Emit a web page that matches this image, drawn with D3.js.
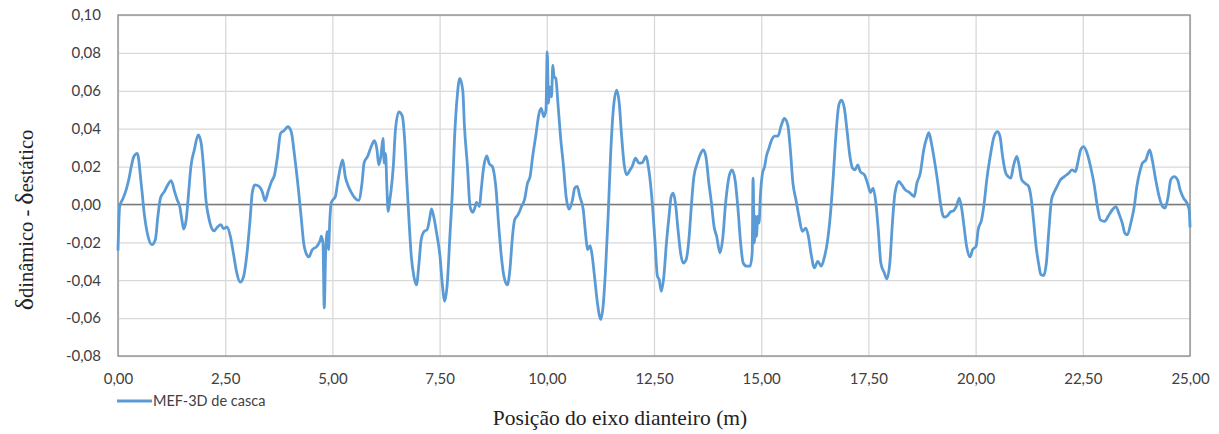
<!DOCTYPE html>
<html>
<head>
<meta charset="utf-8">
<script src="https://cdn.jsdelivr.net/npm/d3@7"></script>
<style>
  body { margin: 0; background: #fff; }
  .tick text { font-family: Lato, "Noto Sans", sans-serif; font-size: 15px; fill: #404040; }
</style>
</head>
<body>
<svg id="chart" width="1219" height="434"></svg>
<script>
// posição do eixo dianteiro (m)
const posX = [
  0.00,0.04,0.12,0.19,0.25,0.31,0.37,0.45,0.54,0.62,0.70,0.79,0.87,0.93,0.99,1.08,1.16,1.24,1.32,1.38,
  1.44,1.49,1.53,1.59,1.64,1.70,1.78,1.87,1.94,2.00,2.05,2.11,2.17,2.24,2.32,2.40,2.46,2.54,2.62,2.69,
  2.77,2.85,2.93,3.00,3.08,3.13,3.19,3.29,3.37,3.43,3.50,3.58,3.65,3.72,3.79,3.87,3.96,4.04,4.12,4.20,
  4.27,4.33,4.40,4.45,4.53,4.64,4.72,4.74,4.78,4.81,4.84,4.88,4.91,4.94,4.97,5.00,5.07,5.12,5.19,5.24,
  5.30,5.36,5.43,5.53,5.61,5.69,5.74,5.82,5.90,5.98,6.04,6.08,6.13,6.18,6.21,6.24,6.27,6.30,6.34,6.37,
  6.42,6.47,6.55,6.63,6.68,6.73,6.79,6.84,6.90,6.96,7.02,7.07,7.14,7.21,7.27,7.31,7.37,7.43,7.51,7.56,
  7.62,7.68,7.74,7.80,7.85,7.91,7.97,8.04,8.08,8.15,8.21,8.27,8.32,8.36,8.43,8.47,8.53,8.60,8.66,8.73,
  8.81,8.88,8.94,9.00,9.08,9.14,9.20,9.25,9.33,9.41,9.48,9.55,9.61,9.67,9.74,9.82,9.87,9.93,9.98,10.01,
  10.04,10.07,10.11,10.14,10.17,10.21,10.26,10.32,10.39,10.45,10.52,10.60,10.65,10.71,10.77,10.85,10.91,10.95,11.01,11.06,
  11.12,11.18,11.26,11.32,11.37,11.43,11.49,11.55,11.63,11.69,11.74,11.80,11.86,11.94,11.99,12.07,12.15,12.23,12.31,12.38,
  12.46,12.52,12.58,12.62,12.67,12.73,12.79,12.85,12.90,12.95,13.00,13.06,13.12,13.18,13.25,13.32,13.37,13.43,13.51,13.59,
  13.65,13.71,13.78,13.84,13.90,13.96,14.04,14.10,14.17,14.25,14.32,14.39,14.46,14.52,14.58,14.66,14.74,14.79,14.81,14.84,
  14.87,14.89,14.92,14.95,14.98,15.03,15.08,15.12,15.18,15.23,15.31,15.39,15.47,15.54,15.62,15.68,15.74,15.81,15.88,15.96,
  16.04,16.10,16.16,16.24,16.32,16.40,16.47,16.54,16.61,16.68,16.74,16.81,16.87,16.94,17.00,17.07,17.13,17.19,17.25,17.31,
  17.41,17.48,17.55,17.61,17.67,17.73,17.79,17.87,17.93,18.00,18.06,18.12,18.21,18.28,18.36,18.46,18.57,18.63,18.71,18.79,
  18.87,18.91,18.97,19.05,19.12,19.18,19.26,19.34,19.41,19.49,19.55,19.62,19.68,19.73,19.79,19.87,19.93,20.01,20.06,20.14,
  20.20,20.26,20.34,20.43,20.51,20.57,20.63,20.70,20.76,20.82,20.88,20.96,21.02,21.07,21.15,21.23,21.29,21.35,21.41,21.48,
  21.52,21.59,21.65,21.71,21.77,21.84,21.90,21.98,22.07,22.17,22.25,22.33,22.38,22.45,22.52,22.60,22.68,22.76,22.84,22.91,
  23.01,23.09,23.19,23.27,23.34,23.42,23.48,23.54,23.62,23.70,23.76,23.84,23.89,23.97,24.06,24.12,24.20,24.28,24.36,24.42,
  24.49,24.55,24.63,24.71,24.77,24.85,24.93,24.98,25.00
];

// δdinâmico - δestático
const deltaDif = [
  -0.0239,-0.0011,0.0033,0.0077,0.0130,0.0200,0.0253,0.0270,0.0112,-0.0063,-0.0168,-0.0212,-0.0186,-0.0063,0.0033,0.0068,0.0103,0.0126,0.0068,0.0025,
  -0.0011,-0.0081,-0.0130,-0.0081,0.0042,0.0200,0.0288,0.0367,0.0323,0.0182,0.0025,-0.0063,-0.0116,-0.0139,-0.0119,-0.0107,-0.0128,-0.0119,-0.0168,-0.0256,
  -0.0361,-0.0410,-0.0379,-0.0274,-0.0081,0.0060,0.0103,0.0095,0.0063,0.0019,0.0068,0.0121,0.0156,0.0253,0.0375,0.0389,0.0410,0.0384,0.0253,0.0095,
  -0.0063,-0.0203,-0.0265,-0.0277,-0.0239,-0.0221,-0.0186,-0.0168,-0.0203,-0.0546,-0.0274,-0.0142,-0.0239,-0.0081,0.0007,0.0021,0.0042,0.0112,0.0200,0.0235,
  0.0147,0.0103,0.0068,0.0033,0.0021,0.0112,0.0221,0.0253,0.0302,0.0337,0.0288,0.0209,0.0253,0.0349,0.0218,0.0270,0.0095,-0.0037,0.0025,0.0077,
  0.0200,0.0393,0.0489,0.0467,0.0358,0.0147,-0.0098,-0.0274,-0.0379,-0.0425,-0.0309,-0.0186,-0.0142,-0.0133,-0.0072,-0.0023,-0.0072,-0.0151,-0.0274,-0.0414,
  -0.0510,-0.0414,-0.0168,0.0077,0.0358,0.0568,0.0665,0.0603,0.0410,0.0200,-0.0011,-0.0042,-0.0019,0.0011,-0.0011,0.0077,0.0200,0.0256,0.0214,0.0200,
  0.0095,-0.0116,-0.0274,-0.0379,-0.0425,-0.0344,-0.0168,-0.0081,-0.0054,-0.0011,0.0025,0.0112,0.0147,0.0253,0.0358,0.0481,0.0507,0.0463,0.0498,0.0805,
  0.0533,0.0621,0.0568,0.0735,0.0674,0.0665,0.0533,0.0358,0.0200,0.0042,-0.0025,0.0025,0.0086,0.0095,0.0042,-0.0028,-0.0168,-0.0239,-0.0218,-0.0274,
  -0.0396,-0.0519,-0.0607,-0.0519,-0.0344,-0.0063,0.0270,0.0498,0.0603,0.0533,0.0375,0.0218,0.0156,0.0182,0.0200,0.0244,0.0218,0.0221,0.0253,0.0182,
  0.0007,-0.0186,-0.0379,-0.0396,-0.0458,-0.0379,-0.0203,-0.0063,0.0042,0.0060,0.0007,-0.0133,-0.0256,-0.0309,-0.0291,-0.0168,-0.0011,0.0147,0.0218,0.0270,
  0.0288,0.0253,0.0112,0.0007,-0.0116,-0.0168,-0.0256,-0.0186,0.0007,0.0147,0.0182,0.0130,-0.0028,-0.0203,-0.0309,-0.0326,-0.0326,-0.0256,0.0139,-0.0203,
  -0.0063,-0.0168,-0.0063,-0.0098,0.0042,0.0165,0.0200,0.0253,0.0296,0.0332,0.0361,0.0361,0.0419,0.0454,0.0419,0.0288,0.0112,0.0025,-0.0063,-0.0142,
  -0.0125,-0.0168,-0.0256,-0.0335,-0.0300,-0.0326,-0.0282,-0.0203,-0.0063,0.0147,0.0358,0.0524,0.0551,0.0507,0.0393,0.0253,0.0191,0.0182,0.0209,0.0174,
  0.0156,0.0112,0.0063,0.0086,0.0016,-0.0133,-0.0309,-0.0361,-0.0393,-0.0309,-0.0098,0.0060,0.0121,0.0103,0.0077,0.0063,0.0042,0.0112,0.0165,0.0288,
  0.0358,0.0379,0.0323,0.0218,0.0112,0.0007,-0.0067,-0.0060,-0.0040,-0.0033,-0.0011,0.0033,-0.0028,-0.0116,-0.0221,-0.0277,-0.0239,-0.0221,-0.0133,-0.0081,
  0.0007,0.0130,0.0253,0.0358,0.0384,0.0358,0.0253,0.0168,0.0147,0.0139,0.0200,0.0253,0.0200,0.0133,0.0112,0.0098,0.0042,-0.0081,-0.0221,-0.0326,
  -0.0370,-0.0375,-0.0309,-0.0133,0.0025,0.0068,0.0095,0.0130,0.0147,0.0165,0.0182,0.0174,0.0218,0.0288,0.0305,0.0270,0.0200,0.0112,-0.0011,-0.0081,
  -0.0089,-0.0063,-0.0028,-0.0011,-0.0046,-0.0098,-0.0151,-0.0160,-0.0098,-0.0011,0.0095,0.0182,0.0218,0.0235,0.0288,0.0235,0.0130,0.0042,-0.0011,-0.0019,
  0.0042,0.0130,0.0147,0.0130,0.0077,0.0033,0.0007,-0.0028,-0.0116
];

const xTicks = [0, 2.5, 5, 7.5, 10, 12.5, 15, 17.5, 20, 22.5, 25];
const yTicks = [-0.08, -0.06, -0.04, -0.02, 0, 0.02, 0.04, 0.06, 0.08, 0.10];
const seriesName = "MEF-3D de casca";

const margin = { top: 15, right: 29, bottom: 78, left: 118 };
const width = 1219, height = 434;
const w = width - margin.left - margin.right;
const h = height - margin.top - margin.bottom;

const svg = d3.select("#chart");
const g = svg.append("g").attr("transform", `translate(${margin.left},${margin.top})`);

const x = d3.scaleLinear().domain([0, 25]).range([0, w]);
const y = d3.scaleLinear().domain([-0.08, 0.10]).range([h, 0]);

const fmt = d => d.toFixed(2).replace(".", ",");

// grid
g.append("g")
  .attr("transform", `translate(0,${h})`)
  .call(d3.axisBottom(x).tickValues(xTicks).tickSize(-h).tickFormat(""))
  .call(a => a.select(".domain").remove())
  .selectAll("line").attr("stroke", "#d9d9d9").attr("stroke-width", 1.3);
g.append("g")
  .call(d3.axisLeft(y).tickValues(yTicks).tickSize(-w).tickFormat(""))
  .call(a => a.select(".domain").remove())
  .selectAll("line").attr("stroke", "#d9d9d9").attr("stroke-width", 1.3);

// tick labels
g.append("g")
  .attr("transform", `translate(0,${h})`)
  .call(d3.axisBottom(x).tickValues(xTicks).tickSize(0).tickPadding(17).tickFormat(fmt))
  .call(a => a.select(".domain").remove());
g.append("g")
  .call(d3.axisLeft(y).tickValues(yTicks).tickSize(0).tickPadding(17).tickFormat(fmt))
  .call(a => a.select(".domain").remove());

// frame
g.append("rect").attr("width", w).attr("height", h)
  .attr("fill", "none").attr("stroke", "#8c8c8c").attr("stroke-width", 1.3);

// zero line
g.append("line").attr("x1", 0).attr("x2", w).attr("y1", y(0)).attr("y2", y(0))
  .attr("stroke", "#7a7a7a").attr("stroke-width", 1.5);

const data = posX.map((p, i) => ({ x: p, v: deltaDif[i] }));
const line = d3.line().x(d => x(d.x)).y(d => y(d.v)).curve(d3.curveMonotoneX);

g.append("path").datum(data)
  .attr("d", line)
  .attr("fill", "none")
  .attr("stroke", "#5b9bd5")
  .attr("stroke-width", 2.8)
  .attr("stroke-linejoin", "round")
  .attr("stroke-linecap", "round");

// legend
const lg = svg.append("g").attr("transform", "translate(117,401)");
lg.append("line").attr("x1", 0).attr("x2", 35).attr("y1", 0).attr("y2", 0)
  .attr("stroke", "#5b9bd5").attr("stroke-width", 3);
lg.append("text").attr("x", 36).attr("y", 5)
  .attr("font-family", "Lato, 'Noto Sans', sans-serif").attr("font-size", 14.5).attr("fill", "#404040")
  .text(seriesName);

// axis titles
svg.append("text")
  .attr("x", 620).attr("y", 425)
  .attr("text-anchor", "middle")
  .attr("font-family", "'Liberation Serif', serif").attr("font-size", 21.5).attr("fill", "#222")
  .text("Posição do eixo dianteiro (m)");

const yt = svg.append("text")
  .attr("transform", "translate(33,220) rotate(-90)")
  .attr("text-anchor", "middle")
  .attr("font-family", "'Liberation Serif', serif").attr("font-size", 20.5).attr("fill", "#222");
yt.append("tspan").attr("font-size", 26).text("δ");
yt.append("tspan").text("dinâmico - ");
yt.append("tspan").attr("font-size", 26).text("δ");
yt.append("tspan").text("estático");
</script>
</body>
</html>
